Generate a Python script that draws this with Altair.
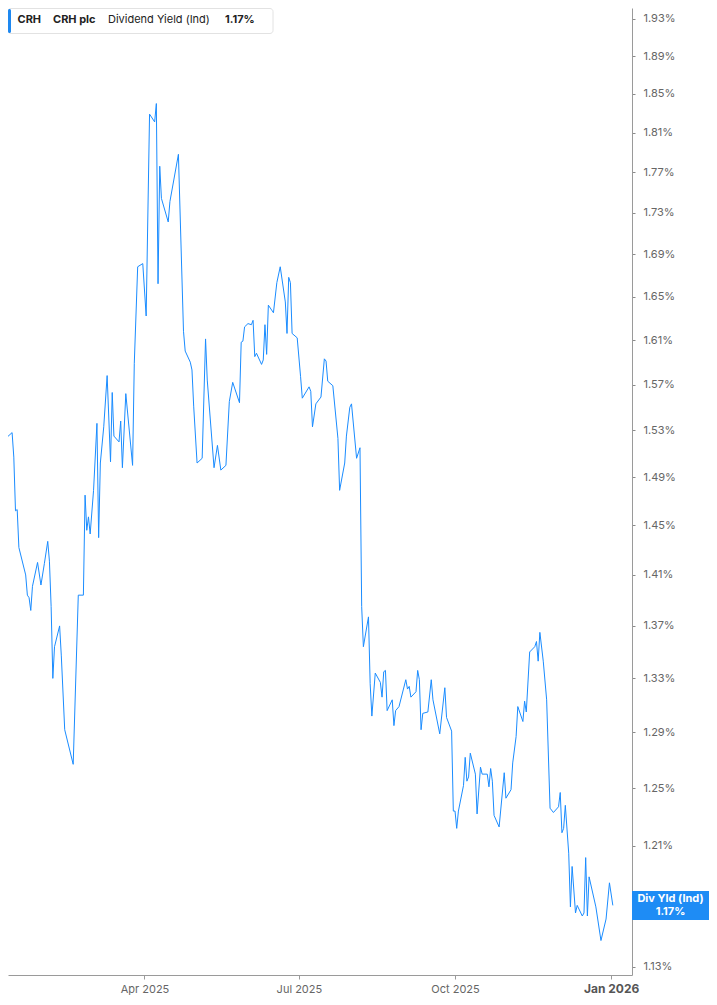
import altair as alt
import pandas as pd

# ---- data (CRH plc, dividend yield, %) ----
dates = [
    "2025-01-06", "2025-01-07", "2025-01-08", "2025-01-10", "2025-01-13", "2025-01-14", "2025-01-15",
    "2025-01-16", "2025-01-17", "2025-01-21", "2025-01-22", "2025-01-23", "2025-01-24", "2025-01-25",
    "2025-01-28", "2025-01-30", "2025-02-01", "2025-02-03", "2025-02-04", "2025-02-05", "2025-02-06",
    "2025-02-07", "2025-02-10", "2025-02-11", "2025-02-13", "2025-02-18", "2025-02-21", "2025-02-24",
    "2025-02-25", "2025-02-26", "2025-02-27", "2025-02-28", "2025-03-02", "2025-03-04", "2025-03-05",
    "2025-03-06", "2025-03-08", "2025-03-10", "2025-03-12", "2025-03-13", "2025-03-14", "2025-03-17",
    "2025-03-18", "2025-03-19", "2025-03-21", "2025-03-25", "2025-03-26", "2025-03-28", "2025-03-31",
    "2025-04-02", "2025-04-04", "2025-04-07", "2025-04-08", "2025-04-09", "2025-04-10", "2025-04-11",
    "2025-04-15", "2025-04-16", "2025-04-21", "2025-04-24", "2025-04-25", "2025-04-28", "2025-04-29",
    "2025-04-30", "2025-05-02", "2025-05-05", "2025-05-07", "2025-05-08", "2025-05-12", "2025-05-14",
    "2025-05-16", "2025-05-19", "2025-05-21", "2025-05-23", "2025-05-27", "2025-05-28", "2025-05-29",
    "2025-05-30", "2025-06-01", "2025-06-03", "2025-06-04", "2025-06-05", "2025-06-06", "2025-06-09",
    "2025-06-10", "2025-06-11", "2025-06-12", "2025-06-13", "2025-06-16", "2025-06-18", "2025-06-20",
    "2025-06-23", "2025-06-24", "2025-06-25", "2025-06-26", "2025-06-27", "2025-06-30", "2025-07-02",
    "2025-07-03", "2025-07-07", "2025-07-08", "2025-07-09", "2025-07-11", "2025-07-14", "2025-07-16",
    "2025-07-17", "2025-07-18", "2025-07-21", "2025-07-24", "2025-07-25", "2025-07-28", "2025-07-29",
    "2025-07-31", "2025-08-01", "2025-08-04", "2025-08-06", "2025-08-07", "2025-08-08", "2025-08-11",
    "2025-08-12", "2025-08-13", "2025-08-15", "2025-08-18", "2025-08-19", "2025-08-20", "2025-08-21",
    "2025-08-22", "2025-08-25", "2025-08-26", "2025-08-27", "2025-08-29", "2025-09-02", "2025-09-03",
    "2025-09-04", "2025-09-05", "2025-09-08", "2025-09-09", "2025-09-10", "2025-09-11", "2025-09-12",
    "2025-09-15", "2025-09-17", "2025-09-18", "2025-09-22", "2025-09-25", "2025-09-26", "2025-09-29",
    "2025-09-30", "2025-10-01", "2025-10-02", "2025-10-03", "2025-10-06", "2025-10-07", "2025-10-08",
    "2025-10-09", "2025-10-10", "2025-10-13", "2025-10-14", "2025-10-16", "2025-10-17", "2025-10-20",
    "2025-10-21", "2025-10-22", "2025-10-23", "2025-10-24", "2025-10-27", "2025-10-30", "2025-10-31",
    "2025-11-03", "2025-11-04", "2025-11-06", "2025-11-07", "2025-11-10", "2025-11-11", "2025-11-12",
    "2025-11-14", "2025-11-17", "2025-11-18", "2025-11-19", "2025-11-20", "2025-11-22", "2025-11-24",
    "2025-11-26", "2025-11-28", "2025-12-01", "2025-12-02", "2025-12-03", "2025-12-04", "2025-12-05",
    "2025-12-07", "2025-12-08", "2025-12-09", "2025-12-11", "2025-12-12", "2025-12-15", "2025-12-16",
    "2025-12-17", "2025-12-18", "2025-12-19", "2025-12-23", "2025-12-26", "2025-12-29", "2025-12-31",
    "2026-01-02",
]
values = [
    1.495, 1.515, 1.513, 1.524, 1.528, 1.507, 1.462,
    1.463, 1.432, 1.410, 1.394, 1.392, 1.382, 1.401,
    1.420, 1.402, 1.419, 1.437, 1.421, 1.385, 1.330,
    1.354, 1.370, 1.347, 1.292, 1.267, 1.394, 1.394,
    1.475, 1.446, 1.457, 1.443, 1.479, 1.536, 1.440,
    1.502, 1.533, 1.578, 1.503, 1.563, 1.525, 1.520,
    1.538, 1.498, 1.562, 1.500, 1.589, 1.678, 1.681,
    1.632, 1.829, 1.821, 1.840, 1.662, 1.776, 1.744,
    1.721, 1.741, 1.788, 1.618, 1.600, 1.590, 1.583,
    1.551, 1.502, 1.506, 1.611, 1.574, 1.498, 1.517,
    1.496, 1.500, 1.555, 1.572, 1.554, 1.608, 1.609,
    1.622, 1.625, 1.624, 1.628, 1.595, 1.598, 1.588,
    1.592, 1.624, 1.597, 1.642, 1.635, 1.663, 1.678,
    1.645, 1.616, 1.668, 1.663, 1.616, 1.612, 1.577,
    1.558, 1.568, 1.564, 1.533, 1.553, 1.559, 1.593,
    1.591, 1.573, 1.569, 1.523, 1.479, 1.502, 1.525,
    1.550, 1.553, 1.506, 1.515, 1.385, 1.354, 1.377,
    1.326, 1.302, 1.334, 1.327, 1.316, 1.335, 1.336,
    1.306, 1.314, 1.295, 1.306, 1.309, 1.329, 1.322,
    1.324, 1.316, 1.320, 1.336, 1.329, 1.292, 1.304,
    1.305, 1.329, 1.314, 1.289, 1.323, 1.301, 1.291,
    1.234, 1.234, 1.222, 1.234, 1.252, 1.272, 1.255,
    1.258, 1.275, 1.260, 1.232, 1.265, 1.260, 1.260,
    1.251, 1.264, 1.255, 1.231, 1.223, 1.261, 1.243,
    1.249, 1.268, 1.287, 1.309, 1.298, 1.313, 1.305,
    1.350, 1.354, 1.358, 1.343, 1.365, 1.343, 1.314,
    1.236, 1.233, 1.237, 1.247, 1.219, 1.222, 1.238,
    1.205, 1.169, 1.196, 1.165, 1.170, 1.163, 1.165,
    1.202, 1.163, 1.189, 1.169, 1.147, 1.161, 1.185,
    1.170,
]

y_tick_values = [1.13, 1.17, 1.21, 1.25, 1.29, 1.33, 1.37, 1.41, 1.45, 1.49, 1.53,
                 1.57, 1.61, 1.65, 1.69, 1.73, 1.77, 1.81, 1.85, 1.89, 1.93]
x_tick_dates = [(2025, 4, 1), (2025, 7, 1), (2025, 10, 1), (2026, 1, 1)]
header_ticker = "CRH"
header_name = "CRH plc"
header_metric = "Dividend Yield (Ind)"
badge_title = "Div Yld (Ind)"

df = pd.DataFrame({"date": dates, "value": values})
last_df = pd.DataFrame({"value": [values[-1]], "label": [f"{values[-1]:.2f}%"]})
last_label_value = values[-1]

BLUE = "#1a8cff"
FONT = "Inter"
W, H = 624, 967
BADGE_W = 77
BADGE_CX = W + BADGE_W / 2

x_scale = alt.Scale(
    type="utc",
    domain=[alt.DateTime(year=2025, month=1, date=10, hours=14, utc=True),
            alt.DateTime(year=2026, month=1, date=13, hours=7, utc=True)],
)
y_scale = alt.Scale(type="log", domain=[1.1249, 1.9420], nice=False, zero=False)

is_jan = "utcmonth(datum.value) === 0"
x_axis = alt.Axis(
    values=[alt.DateTime(year=y, month=m, date=d, utc=True) for (y, m, d) in x_tick_dates],
    labelExpr="utcFormat(datum.value, '%b %Y')",
    grid=False, tickSize=4, tickColor="#9a9a9a", domainColor="#9a9a9a",
    labelFont=FONT, labelPadding=4, labelBaseline="top",
    labelFontSize={"condition": {"test": is_jan, "value": 12}, "value": 11},
    labelFontWeight={"condition": {"test": is_jan, "value": "bold"}, "value": "normal"},
    labelColor={"condition": {"test": is_jan, "value": "#555555"}, "value": "#666666"},
    title=None,
)
y_axis = alt.Axis(
    orient="right", values=y_tick_values,
    labelExpr=f"abs(datum.value - {last_label_value}) < 0.005 ? '' : format(datum.value, '.2f') + '%'",
    grid=False, tickSize=3, tickColor="#8a8a8a", domainColor="#9a9a9a",
    labelColor="#666666", labelFont=FONT, labelFontSize=11, labelPadding=8,
    title=None,
)

line = alt.Chart(df).mark_line(color=BLUE, strokeWidth=1, clip=True).encode(
    x=alt.X("date:T", scale=x_scale, axis=x_axis, title=None),
    y=alt.Y("value:Q", scale=y_scale, axis=y_axis, title=None),
)

one = alt.Data(values=[{}])
header_bg = alt.Chart(one).mark_rect(
    fill="white", stroke="#e2e2e2", strokeWidth=1, cornerRadius=3
).encode(x=alt.value(0), x2=alt.value(265), y=alt.value(0.5), y2=alt.value(25.5))
header_bar = alt.Chart(one).mark_rect(fill="#1e88f0", cornerRadius=1.5).encode(
    x=alt.value(0), x2=alt.value(3), y=alt.value(1), y2=alt.value(25)
)

def htext(txt, xpos, weight):
    return alt.Chart(one).mark_text(
        align="left", baseline="middle", font=FONT, fontSize=11,
        fontWeight=weight, color="#222222"
    ).encode(x=alt.value(xpos), y=alt.value(12), text=alt.value(txt))

h1 = htext(header_ticker, 9.5, "bold")
h2 = htext(header_name, 45, "bold")
h3 = htext(header_metric, 100, "normal")
h4 = alt.Chart(last_df).mark_text(
    align="left", baseline="middle", font=FONT, fontSize=11,
    fontWeight="bold", color="#222222"
).encode(x=alt.value(217), y=alt.value(12), text="label:N")

half_h = 14.5 / (BADGE_W / 2)
badge = alt.Chart(last_df).mark_point(
    shape=f"M-1,-{half_h:.4f}L1,-{half_h:.4f}L1,{half_h:.4f}L-1,{half_h:.4f}Z",
    size=BADGE_W * BADGE_W,
    filled=True, fill="#1e8cf5", opacity=1, strokeWidth=0
).encode(x=alt.value(BADGE_CX), y=alt.Y("value:Q", scale=y_scale, title=None))

badge_t1 = alt.Chart(last_df).mark_text(
    align="center", baseline="middle", font=FONT, fontSize=11,
    fontWeight="bold", color="white", dy=-6.5
).encode(x=alt.value(BADGE_CX), y=alt.Y("value:Q", scale=y_scale, title=None),
         text=alt.value(badge_title))
badge_t2 = alt.Chart(last_df).mark_text(
    align="center", baseline="middle", font=FONT, fontSize=11,
    fontWeight="bold", color="white", dy=6.5
).encode(x=alt.value(BADGE_CX), y=alt.Y("value:Q", scale=y_scale, title=None),
         text="label:N")

chart = alt.layer(
    line, header_bg, header_bar, h1, h2, h3, h4, badge, badge_t1, badge_t2
).properties(
    width=W, height=H,
    autosize=alt.AutoSizeParams(type="none"),
    padding={"left": 0, "top": 0, "right": BADGE_W, "bottom": 20},
    background="white",
).configure_view(stroke=None)

chart.save("out.html", embed_options={"renderer": "svg", "actions": False})
